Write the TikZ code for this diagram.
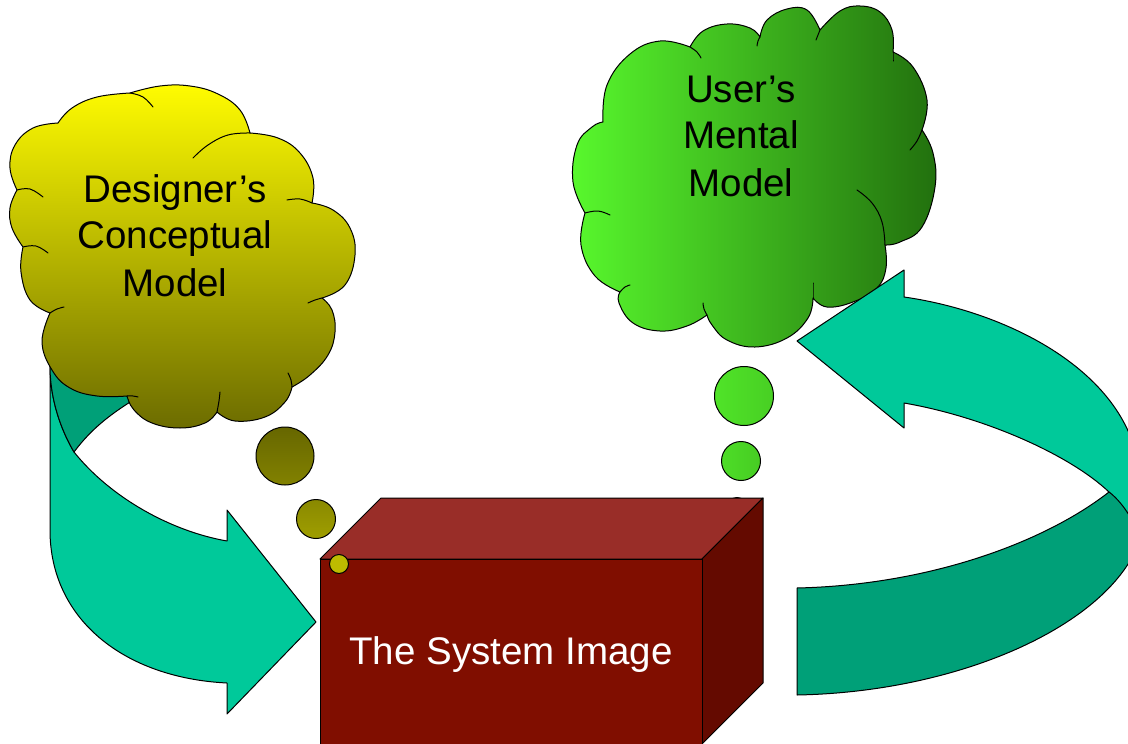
\documentclass[tikz,border=0pt]{standalone}
\usepackage{fontspec}
\setmainfont{Liberation Sans}
\definecolor{teallight}{RGB}{0,201,154}
\definecolor{tealdark}{RGB}{0,160,120}
\definecolor{ytop}{RGB}{255,252,0}
\definecolor{ybot}{RGB}{108,108,0}
\definecolor{gleft}{RGB}{88,248,45}
\definecolor{gright}{RGB}{34,112,14}
\definecolor{boxfront}{RGB}{128,14,0}
\definecolor{boxtop}{RGB}{153,45,40}
\definecolor{boxside}{RGB}{100,10,0}
\begin{document}
\begin{tikzpicture}[x=1pt,y=-1pt,
  outl/.style={draw=black, line width=1pt, line join=round},
  innerstroke/.style={draw=black, line width=1pt, line cap=round},
  bmp/.style={smooth, tension=0.7},
  lbl/.style={font=\fontsize{38.5}{47}\selectfont, text=black, inner sep=0pt, anchor=base},
]
\clip (0,0) rectangle (1128,744);
\fill[white] (0,0) rectangle (1128,744);

% ---------- left curved arrow (behind yellow cloud)
\draw[outl, fill=teallight] (50,340) -- (50,530) .. controls (50,620) and (125,678) .. (227,683)
  -- (227,714) -- (316,622) -- (227,510) -- (227,541)
  .. controls (170,531) and (110,497) .. (74,452)
  .. controls (60,428) and (51,400) .. (50,370) -- cycle;
\draw[outl, fill=tealdark] (74,452) .. controls (92,428) and (112,412) .. (150,390)
  -- (150,340) -- (50,340) -- (50,370) .. controls (51,400) and (60,428) .. (74,452) -- cycle;

% ---------- yellow cloud
\draw[outl, top color=ytop, bottom color=ybot] (58,123)
  -- plot[bmp] coordinates {(58,123) (72,108) (97,97) (130,93)}
  -- plot[bmp] coordinates {(130,93) (160,86) (190,86) (218,94) (240,110) (250,133)}
  -- plot[bmp] coordinates {(250,133) (278,138) (300,153) (313,178) (312,203)}
  -- plot[bmp] coordinates {(312,203) (333,210) (350,228) (355,255) (345,285) (322,298)}
  -- plot[bmp] coordinates {(322,298) (332,310) (335,332) (328,355) (310,375) (292,387)}
  -- plot[bmp] coordinates {(292,387) (285,402) (265,417) (235,421) (217,412)}
  -- plot[bmp] coordinates {(217,412) (205,423) (180,428) (152,423) (134,410) (127,396)}
  -- plot[bmp] coordinates {(127,396) (97,396) (70,388) (52,370) (42,342) (50,313)}
  -- plot[bmp] coordinates {(50,313) (30,300) (21,272) (23,247)}
  -- plot[bmp] coordinates {(23,247) (12,228) (10,208) (17,190)}
  -- plot[bmp] coordinates {(17,190) (10,168) (15,145) (33,128) (58,123)} -- cycle;
\draw[innerstroke] plot[bmp] coordinates {(17,190) (30,189) (43,197)};
\draw[innerstroke] plot[bmp] coordinates {(23,247) (36,246) (48,253)};
\draw[innerstroke] plot[bmp] coordinates {(50,313) (57,309) (64,307)};
\draw[innerstroke] plot[bmp] coordinates {(127,396) (133,396) (138,397)};
\draw[innerstroke] plot[bmp] coordinates {(217,412) (219,401) (220,392)};
\draw[innerstroke] plot[bmp] coordinates {(292,387) (291,380) (288,373)};
\draw[innerstroke] plot[bmp] coordinates {(322,298) (315,300) (308,303)};
\draw[innerstroke] plot[bmp] coordinates {(312,203) (300,199) (287,200)};
\draw[innerstroke] plot[bmp] coordinates {(250,133) (228,135) (208,145) (193,158)};
\draw[innerstroke] plot[bmp] coordinates {(130,93) (143,97) (153,107)};
\node[lbl] (d1) at (175,202) {Designer’s};
\node[lbl] (d2) at (175,248) {Conceptual};
\node[lbl] (d3) at (175,296) {Model};

% ---------- yellow thought bubbles
\draw[outl, top color=ybot!95!black, bottom color=ybot!85!ytop] (285,456) circle[radius=29];
\draw[outl, top color=ybot!80!ytop, bottom color=ybot!65!ytop] (316,519) circle[radius=19.5];

% ---------- green cloud
\draw[outl, left color=gleft, right color=gright] (603,122)
  -- plot[bmp] coordinates {(603,122) (607,85) (630,54) (660,41) (690,47)}
  -- plot[bmp] coordinates {(690,47) (703,31) (727,24) (750,28) (760,37)}
  -- plot[bmp] coordinates {(760,37) (767,20) (787,9) (807,10) (820,30)}
  -- plot[bmp] coordinates {(820,30) (840,11) (860,6) (880,12) (892,30) (893,52)}
  -- plot[bmp] coordinates {(893,52) (913,67) (927,100) (922,130)}
  -- plot[bmp] coordinates {(922,130) (933,153) (935,187) (922,227) (900,242) (885,245)}
  -- plot[bmp] coordinates {(885,245) (886,268) (877,288) (853,302) (827,307) (813,298)}
  -- plot[bmp] coordinates {(813,298) (808,318) (787,338) (755,347) (727,340) (712,325) (707,315)}
  -- plot[bmp] coordinates {(707,315) (687,326) (660,331) (633,323) (619,303) (620,292)}
  -- plot[bmp] coordinates {(620,292) (595,276) (581,245) (585,213)}
  -- plot[bmp] coordinates {(585,213) (573,182) (577,145) (592,127) (603,122)} -- cycle;
\draw[innerstroke] plot[bmp] coordinates {(690,47) (697,52) (701,58)};
\draw[innerstroke] plot[bmp] coordinates {(760,37) (758,41) (757,46)};
\draw[innerstroke] plot[bmp] coordinates {(820,30) (818,35) (816,40)};
\draw[innerstroke] plot[bmp] coordinates {(893,52) (893,56) (893,61)};
\draw[innerstroke] plot[bmp] coordinates {(922,130) (917,141) (910,150)};
\draw[innerstroke] plot[bmp] coordinates {(885,245) (882,222) (872,203) (857,190)};
\draw[innerstroke] plot[bmp] coordinates {(813,298) (813,290) (813,283)};
\draw[innerstroke] plot[bmp] coordinates {(707,315) (704,309) (703,303)};
\draw[innerstroke] plot[bmp] coordinates {(620,292) (625,287) (630,285)};
\draw[innerstroke] plot[bmp] coordinates {(585,213) (598,211) (610,215)};
\node[lbl] (u1) at (741,102) {User’s};
\node[lbl] (u2) at (741,148) {Mental};
\node[lbl] (u3) at (741,196) {Model};

% ---------- green thought bubbles
\draw[outl, left color=gleft!85!gright, right color=gleft!70!gright] (744,396) circle[radius=29.5];
\draw[outl, left color=gleft!80!gright, right color=gleft!68!gright] (741,461) circle[radius=19.5];
\draw[outl, fill=gleft!75!gright] (737,508) circle[radius=10.5];

% ---------- right curved arrow (in front of green cloud)
\draw[outl, fill=teallight] (797,341) -- (904,270) -- (904,297)
  .. controls (1010,312) and (1135,375) .. (1140,480) -- (1140,530) -- (1109,492)
  .. controls (1070,455) and (985,417) .. (904,403) -- (904,428) -- cycle;
\draw[outl, fill=tealdark] (1109,492) .. controls (1045,542) and (930,585) .. (797,588)
  -- (797,695) .. controls (960,692) and (1110,625) .. (1140,540)
  .. controls (1135,520) and (1120,500) .. (1109,492) -- cycle;

% ---------- the system image box
\draw[outl, fill=boxtop] (320,559) -- (381,498) -- (763,498) -- (702,559) -- cycle;
\draw[outl, fill=boxside] (702,559) -- (763,498) -- (763,683) -- (702,744) -- cycle;
\draw[outl, fill=boxfront] (320,559) rectangle (702,750);
\node[lbl, text=white] (sys) at (511,664) {The System Image};
\draw[outl, fill=ybot!45!ytop] (339,564) circle[radius=9.5];
\end{tikzpicture}
\end{document}
